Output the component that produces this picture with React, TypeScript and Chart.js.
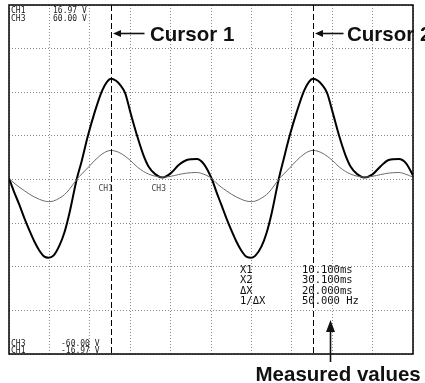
import React, { useEffect, useRef } from "react";
import { Chart, registerables } from "chart.js";

Chart.register(...registerables);

// ---- data ----
const timeMs = [
  0, 0.5, 1, 1.5, 2, 2.5, 3, 3.5, 3.9, 4.4, 5, 5.5, 6, 6.7, 7.2, 7.8, 8.5, 9.2, 9.7, 10.1,
  10.6, 11, 11.5, 12, 12.7, 13.3, 13.8, 14.5, 15.2, 16, 16.8, 17.6, 18.6, 19.3, 20.1,
  20.5, 21, 21.5, 22, 22.5, 23, 23.5, 24, 24.4, 25, 25.5, 26, 26.7, 27.2, 27.8, 28.5, 29.2, 29.7, 30.1,
  30.6, 31, 31.5, 32, 32.7, 33.3, 33.8, 34.5, 35.2, 36, 36.8, 37.6, 38.6, 39.3, 40,
];
const ch1Volts = [
  0.1, -1.2, -2.4, -3.7, -4.9, -6.0, -6.9, -7.5, -7.6, -7.4, -6.4, -5.1, -3.2, 0, 1.8, 4.2, 6.6, 8.6, 9.5, 9.8,
  9.6, 9.2, 8.4, 6.6, 4.2, 2.4, 1.3, 0.5, 0.2, 0.6, 1.4, 1.9, 2.0, 1.5, 0,
  -1.1, -2.4, -3.7, -4.9, -6.0, -6.9, -7.5, -7.6, -7.4, -6.5, -5.2, -3.3, 0, 2.0, 4.3, 6.6, 8.6, 9.5, 9.8,
  9.6, 9.2, 8.4, 6.7, 4.2, 2.4, 1.3, 0.5, 0.2, 0.5, 1.3, 1.9, 2.0, 1.6, 0.4,
];
const ch3Volts = [
  0.3, -1.2, -2.6, -3.8, -5.0, -6.0, -6.8, -7.4, -7.6, -7.4, -6.4, -5.2, -3.3, 0, 1.9, 4.0, 6.6, 8.7, 9.7, 10.0,
  9.7, 9.1, 8.0, 6.6, 4.3, 2.8, 1.9, 1.1, 0.8, 1.1, 1.7, 2.2, 2.4, 1.8, 0.3,
  -1.1, -2.6, -3.8, -5.0, -6.0, -6.8, -7.4, -7.6, -7.4, -6.4, -5.2, -3.3, 0, 1.9, 4.0, 6.6, 8.7, 9.7, 10.0,
  9.7, 9.1, 8.0, 6.6, 4.3, 2.8, 1.9, 1.1, 0.8, 1.1, 1.7, 2.2, 2.4, 1.8, 0.8,
];
const ch1RangeV = 16.97;
const ch3RangeV = 60.0;
const timeSpanMs = 40;
const msPerDiv = 4;
const verticalDivs = 4;
const cursorMs = [10.1, 30.1];
const cursorNames = ["Cursor 1", "Cursor 2"];
const headerChannels = ["CH1", "CH3"];
const headerValues = ["16.97 V", "60.00 V"];
const footerChannels = ["CH3", "CH1"];
const footerValues = ["-60.00 V", "-16.97 V"];
const markerLabels = ["CH1", "CH3"];
const measureNames = ["X1", "X2", "ΔX", "1/ΔX"];
const measureValues = ["10.100ms", "30.100ms", "20.000ms", "50.000 Hz"];
const calloutText = "Measured values";

const MONO = '"DejaVu Sans Mono", "Liberation Mono", monospace';
const BOLD = 'bold 20.5px "Liberation Sans", Arial, Helvetica, sans-serif';

function arrow(ctx: CanvasRenderingContext2D, x1: number, y1: number, x2: number, y2: number, headLen: number, headHalf: number) {
  const ang = Math.atan2(y2 - y1, x2 - x1);
  const bx = x2 - Math.cos(ang) * headLen;
  const by = y2 - Math.sin(ang) * headLen;
  ctx.beginPath();
  ctx.moveTo(x1, y1);
  ctx.lineTo(bx, by);
  ctx.stroke();
  ctx.beginPath();
  ctx.moveTo(x2, y2);
  ctx.lineTo(bx + Math.sin(ang) * headHalf, by - Math.cos(ang) * headHalf);
  ctx.lineTo(bx - Math.sin(ang) * headHalf, by + Math.cos(ang) * headHalf);
  ctx.closePath();
  ctx.fill();
}

const overlay = {
  id: "overlay",
  afterDatasetsDraw(chart: any) {
    const { ctx, chartArea: a, scales } = chart;
    const xs = scales.x;
    ctx.save();
    // cursors
    ctx.strokeStyle = "#000";
    ctx.lineWidth = 1;
    ctx.setLineDash([6, 3]);
    const cursorPx = cursorMs.map((c) => Math.round(xs.getPixelForValue(c)) + 0.5);
    cursorPx.forEach((px) => {
      ctx.beginPath();
      ctx.moveTo(px, a.top);
      ctx.lineTo(px, a.bottom);
      ctx.stroke();
    });
    ctx.setLineDash([]);

    // scope texts
    ctx.fillStyle = "#222";
    ctx.textBaseline = "alphabetic";
    ctx.font = `8px ${MONO}`;
    headerChannels.forEach((t, i) => {
      ctx.fillText(t, a.left + 2, a.top + 7.5 + i * 8);
      ctx.fillText(headerValues[i], a.left + 44, a.top + 7.5 + i * 8);
    });
    footerChannels.forEach((t, i) => {
      ctx.fillText(t, a.left + 2, a.bottom - 8.5 + i * 7);
      ctx.fillText(footerValues[i], a.left + 52, a.bottom - 8.5 + i * 7);
    });
    ctx.fillStyle = "#444";
    const midY = (a.top + a.bottom) / 2;
    ctx.fillText(markerLabels[0], cursorPx[0] - 13, midY + 11);
    ctx.fillText(markerLabels[1], cursorPx[0] + 40, midY + 11);

    ctx.fillStyle = "#111";
    ctx.font = `10.5px ${MONO}`;
    measureNames.forEach((t, i) => {
      const y = a.top + 268 + i * 10.3;
      ctx.fillText(t, a.left + 231, y);
      ctx.fillText(measureValues[i], a.left + 293, y);
    });

    // frame
    ctx.strokeStyle = "#000";
    ctx.lineWidth = 1.5;
    ctx.strokeRect(a.left, a.top, a.right - a.left, a.bottom - a.top);

    // callouts
    ctx.fillStyle = "#111";
    ctx.strokeStyle = "#111";
    ctx.lineWidth = 1.6;
    ctx.font = BOLD;
    const textOffsets = [38.5, 33.5];
    const tailOffsets = [33, 30];
    cursorPx.forEach((px, i) => {
      arrow(ctx, px + tailOffsets[i], a.top + 28.5, px + 1.5, a.top + 28.5, 8, 3.5);
      ctx.fillText(cursorNames[i], px + textOffsets[i], a.top + 36);
    });
    arrow(ctx, cursorPx[1] + 17, a.bottom + 8, cursorPx[1] + 17, a.bottom - 34, 12, 4.5);
    ctx.fillText(calloutText, cursorPx[1] - 58, a.bottom + 27);
    ctx.restore();
  },
};

export default function App() {
  const ref = useRef<HTMLCanvasElement | null>(null);
  useEffect(() => {
    if (!ref.current) return;
    const chart = new Chart(ref.current, {
      type: "line",
      data: {
        datasets: [
          {
            label: "CH3",
            data: timeMs.map((t, i) => ({ x: t, y: ch3Volts[i] })),
            yAxisID: "y3",
            borderColor: "#6a6a6a",
            borderWidth: 1,
            pointRadius: 0,
            cubicInterpolationMode: "monotone",
            fill: false,
          },
          {
            label: "CH1",
            data: timeMs.map((t, i) => ({ x: t, y: ch1Volts[i] })),
            yAxisID: "y1",
            borderColor: "#000",
            borderWidth: 2,
            pointRadius: 0,
            cubicInterpolationMode: "monotone",
            fill: false,
          },
        ],
      },
      options: {
        animation: false,
        responsive: false,
        events: [],
        layout: { padding: { left: 9, top: 5, right: 12, bottom: 29 } },
        plugins: { legend: { display: false }, tooltip: { enabled: false } },
        scales: {
          x: {
            type: "linear",
            min: 0,
            max: timeSpanMs,
            ticks: { display: false, stepSize: msPerDiv },
            grid: { color: "#8a8a8a", lineWidth: 1, drawTicks: false },
            border: { display: false, dash: [1, 2] },
          },
          y: {
            type: "linear",
            min: -verticalDivs,
            max: verticalDivs,
            ticks: { display: false, stepSize: 1 },
            grid: { color: "#8a8a8a", lineWidth: 1, drawTicks: false },
            border: { display: false, dash: [1, 2] },
          },
          y1: { type: "linear", display: false, min: -ch1RangeV, max: ch1RangeV },
          y3: { type: "linear", display: false, min: -ch3RangeV, max: ch3RangeV },
        },
      },
      plugins: [overlay],
    });
    return () => chart.destroy();
  }, []);
  return (
    <div style={{ position: "absolute", left: 0, top: 0, width: 425, height: 383, background: "#fff" }}>
      <canvas ref={ref} width={425} height={383} style={{ display: "block" }} />
    </div>
  );
}
